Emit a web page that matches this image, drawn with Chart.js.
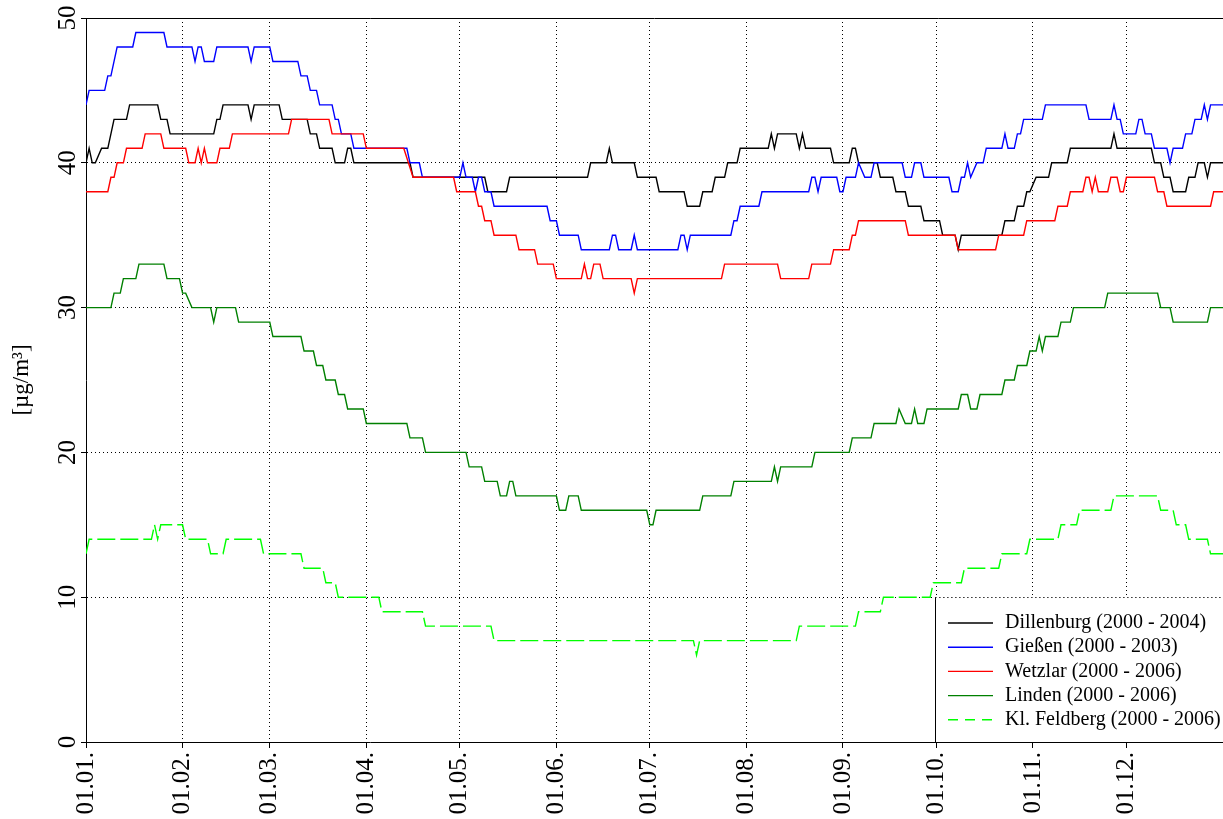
<!DOCTYPE html>
<html><head><meta charset="utf-8">
<script src="https://cdn.jsdelivr.net/npm/chart.js@4.4.1/dist/chart.umd.min.js"></script>
<style>html,body{margin:0;padding:0;background:#fff;overflow:hidden}#wrap{width:1223px;height:819px}</style>
</head><body><div id="wrap"><canvas id="c" width="1223" height="819"></canvas></div>
<script>
// Tick labels and positions (day of year, 0 = 01.01.)
const monthStartDays = [0,31,59,90,120,151,181,212,243,273,304,334];
const monthLabels = ['01.01.','01.02.','01.03.','01.04.','01.05.','01.06.','01.07.','01.08.','01.09.','01.10.','01.11.','01.12.'];
const yTicks = [0,10,20,30,40,50];
const seriesLabels = ['Dillenburg (2000 - 2004)','Gießen (2000 - 2003)','Wetzlar (2000 - 2006)','Linden (2000 - 2006)','Kl. Feldberg (2000 - 2006)'];
const yTitle = '[µg/m³]';

// Series vertices (day of year, value)
const dillenburgDays = [0,1,2,3,5,7,9,13,14,23,24,26,27,41,42,43,44,52,53,54,62,63,71,72,74,75,79,80,83,84,85,86,104,105,128,129,135,136,161,162,167,168,169,176,177,183,184,192,193,197,198,201,202,205,206,209,210,219,220,221,222,228,229,230,231,239,240,245,246,247,248,254,255,259,260,263,264,268,269,274,275,279,280,281,294,295,298,299,301,302,303,305,309,310,315,316,329,330,331,342,343,345,346,348,349,353,354,356,357,359,360,361,365];
const dillenburgValues = [40,41,40,40,41,41,43,43,44,44,43,43,42,42,43,43,44,44,43,44,44,43,43,42,42,41,41,40,40,41,41,40,40,39,39,38,38,39,39,40,40,41,40,40,39,39,38,38,37,37,38,38,39,39,40,40,41,41,42,41,42,42,41,42,41,41,40,40,41,41,40,40,39,39,38,38,37,37,36,36,35,35,34,35,35,36,36,37,37,38,38,39,39,40,40,41,41,42,41,41,40,40,39,39,38,38,39,39,40,40,39,40,40];

const giessenDays = [0,1,6,7,8,10,15,16,25,26,34,35,36,37,38,41,42,52,53,54,59,60,68,69,71,72,74,75,79,80,81,82,85,86,103,104,107,108,120,121,122,124,125,126,127,128,130,131,148,149,151,152,158,159,168,169,170,171,175,176,177,190,191,192,193,194,207,208,209,210,216,217,232,233,234,235,236,241,242,243,244,247,248,250,252,253,262,263,265,266,268,269,277,278,280,281,282,283,284,286,288,289,294,295,296,298,299,300,301,307,308,321,322,329,330,331,332,333,337,338,339,340,342,343,347,348,349,352,353,355,356,358,359,360,361,365];
const giessenValues = [44,45,45,46,46,48,48,49,49,48,48,47,48,48,47,47,48,48,47,48,48,47,47,46,46,45,45,44,44,43,43,42,42,41,41,40,40,39,39,40,39,39,38,39,39,38,38,37,37,36,36,35,35,34,34,35,35,34,34,35,34,34,35,35,34,35,35,36,36,37,37,38,38,39,39,38,39,39,38,38,39,39,40,39,39,40,40,39,39,40,40,39,39,38,38,39,39,40,39,40,40,41,41,42,41,41,42,42,43,43,44,44,43,43,44,43,43,42,42,43,43,42,42,41,41,40,41,41,42,42,43,43,44,43,44,44];

const wetzlarDays = [0,7,8,9,10,12,13,18,19,24,25,32,33,35,36,37,38,39,42,43,46,47,65,66,78,79,89,90,102,105,118,119,125,126,127,128,130,131,138,139,144,145,150,151,159,160,161,162,163,165,166,175,176,177,204,205,222,223,232,233,239,240,245,246,247,248,263,264,279,280,292,293,301,302,311,312,315,316,320,321,322,323,324,325,328,329,331,332,333,334,343,344,346,347,361,362,365];
const wetzlarValues = [38,38,39,39,40,40,41,41,42,42,41,41,40,40,41,40,41,40,40,41,41,42,42,43,43,42,42,41,41,39,39,38,38,37,37,36,36,35,35,34,34,33,33,32,32,33,32,32,33,33,32,32,31,32,32,33,33,32,32,33,33,34,34,35,35,36,36,35,35,34,34,35,35,36,36,37,37,38,38,39,39,38,39,38,38,39,39,38,38,39,39,38,38,37,37,38,38];

const lindenDays = [0,8,9,11,12,16,17,25,26,30,31,32,34,40,41,42,48,49,59,60,69,70,73,74,76,77,80,81,83,84,89,90,103,104,108,109,122,123,127,128,132,133,135,136,137,138,151,152,154,155,158,159,180,181,182,183,197,198,207,208,220,221,222,223,233,234,245,246,252,253,260,261,263,265,266,267,269,270,280,281,283,284,286,287,294,295,298,299,302,303,305,306,307,308,312,313,316,317,327,328,344,345,348,349,360,361,365];
const lindenValues = [30,30,31,31,32,32,33,33,32,32,31,31,30,30,29,30,30,29,29,28,28,27,27,26,26,25,25,24,24,23,23,22,22,21,21,20,20,19,19,18,18,17,17,18,18,17,17,16,16,17,17,16,16,15,15,16,16,17,17,18,18,19,18,19,19,20,20,21,21,22,22,23,22,22,23,22,22,23,23,24,24,23,23,24,24,25,25,26,26,27,27,28,27,28,28,29,29,30,30,31,31,30,30,29,29,30,30];

const feldbergDays = [0,1,21,22,23,24,31,32,39,40,44,45,56,57,69,70,76,77,80,81,94,95,108,109,130,131,195,196,197,228,229,247,248,255,256,271,272,281,282,293,294,302,303,312,313,318,319,329,330,344,345,349,350,353,354,360,361,365];
const feldbergValues = [13,14,14,15,14,15,15,14,14,13,13,14,14,13,13,12,12,11,11,10,10,9,9,8,8,7,7,6,7,7,8,8,9,9,10,10,11,11,12,12,13,13,14,14,15,15,16,16,17,17,16,16,15,15,14,14,13,13];

const seriesColors = ['#000000','#0000ff','#ff0000','#008000','#00ff00'];

const FONT = '"Liberation Serif", "Times New Roman", Times, serif';

function pts(days, vals){ return days.map((d,i)=>({x:d, y:vals[i]})); }

const allDays = [dillenburgDays, giessenDays, wetzlarDays, lindenDays, feldbergDays];
const allVals = [dillenburgValues, giessenValues, wetzlarValues, lindenValues, feldbergValues];

const datasets = seriesLabels.map((lab, i) => ({
  label: lab,
  data: pts(allDays[i], allVals[i]),
  borderColor: seriesColors[i],
  backgroundColor: seriesColors[i],
  borderWidth: 1.4,
  borderDash: i === 4 ? [18, 5] : [],
  pointRadius: 0,
  pointHoverRadius: 0,
  tension: 0,
  fill: false,
  order: 5 - i
}));

const framePlugin = {
  id: 'frame',
  beforeDatasetsDraw(chart){
    const {ctx, chartArea:a} = chart;
    ctx.save();
    ctx.strokeStyle = '#000'; ctx.lineWidth = 1; ctx.setLineDash([]);
    ctx.beginPath();
    ctx.moveTo(a.left, a.top + 0.5); ctx.lineTo(a.right, a.top + 0.5);
    ctx.stroke();
    ctx.restore();
  }
};

const legendPlugin = {
  id: 'boxLegend',
  afterDatasetsDraw(chart){
    const {ctx, chartArea:a, scales} = chart;
    const top = Math.round(scales.y.getPixelForValue(10)) + 0.5;
    const left = 935.5, right = a.right - 0.5, bottom = a.bottom;
    ctx.save();
    ctx.fillStyle = '#fff';
    ctx.fillRect(left, top, right - left, bottom - top);
    ctx.strokeStyle = '#000'; ctx.lineWidth = 1;
    ctx.beginPath(); ctx.moveTo(left, bottom); ctx.lineTo(left, top); ctx.stroke();
    ctx.setLineDash([1,3]);
    ctx.beginPath(); ctx.moveTo(left, top); ctx.lineTo(right, top); ctx.stroke();
    ctx.font = '20px ' + FONT;
    ctx.textBaseline = 'middle';
    ctx.textAlign = 'left';
    chart.data.datasets.forEach((ds, i) => {
      const y = top + 25.5 + i * 24.2;
      ctx.strokeStyle = ds.borderColor;
      ctx.lineWidth = 1.4;
      ctx.setLineDash(i === 4 ? [10, 7] : []);
      ctx.beginPath(); ctx.moveTo(948, y); ctx.lineTo(993, y); ctx.stroke();
      ctx.fillStyle = '#000';
      ctx.fillText(ds.label, 1005, y);
    });
    ctx.restore();
  }
};

new Chart(document.getElementById('c'), {
  type: 'line',
  data: { datasets },
  options: {
    responsive: false,
    animation: false,
    devicePixelRatio: 1,
    layout: { padding: { top: 18, right: 0, bottom: 0, left: 0 } },
    plugins: { legend: { display: false }, tooltip: { enabled: false } },
    events: [],
    scales: {
      x: {
        type: 'linear', min: 0, max: 365,
        afterBuildTicks: s => { s.ticks = monthStartDays.map(v => ({ value: v })); },
        afterFit: s => { s.height = 77; },
        ticks: {
          autoSkip: false, minRotation: 90, maxRotation: 90, padding: 4, color: '#000',
          font: { family: FONT, size: 25 },
          callback: v => { const i = monthStartDays.indexOf(v); return i >= 0 ? monthLabels[i] : ''; }
        },
        grid: { color: '#000', lineWidth: 1, tickLength: 6, drawTicks: true, tickBorderDash: [] },
        border: { display: true, color: '#000', width: 1, dash: [1, 3] }
      },
      y: {
        type: 'linear', min: 0, max: 50,
        afterBuildTicks: s => { s.ticks = yTicks.map(v => ({ value: v })); },
        afterFit: s => { s.width = 86; },
        ticks: {
          autoSkip: false, minRotation: 90, maxRotation: 90, crossAlign: 'center', padding: 0, color: '#000',
          font: { family: FONT, size: 25 }
        },
        grid: { color: '#000', lineWidth: 1, tickLength: 5, drawTicks: true, tickBorderDash: [] },
        border: { display: true, color: '#000', width: 1, dash: [1, 3] },
        title: { display: true, text: yTitle, color: '#000', font: { family: FONT, size: 23 }, padding: { top: 8, bottom: 0 } }
      }
    }
  },
  plugins: [framePlugin, legendPlugin]
});
</script>
</body></html>
